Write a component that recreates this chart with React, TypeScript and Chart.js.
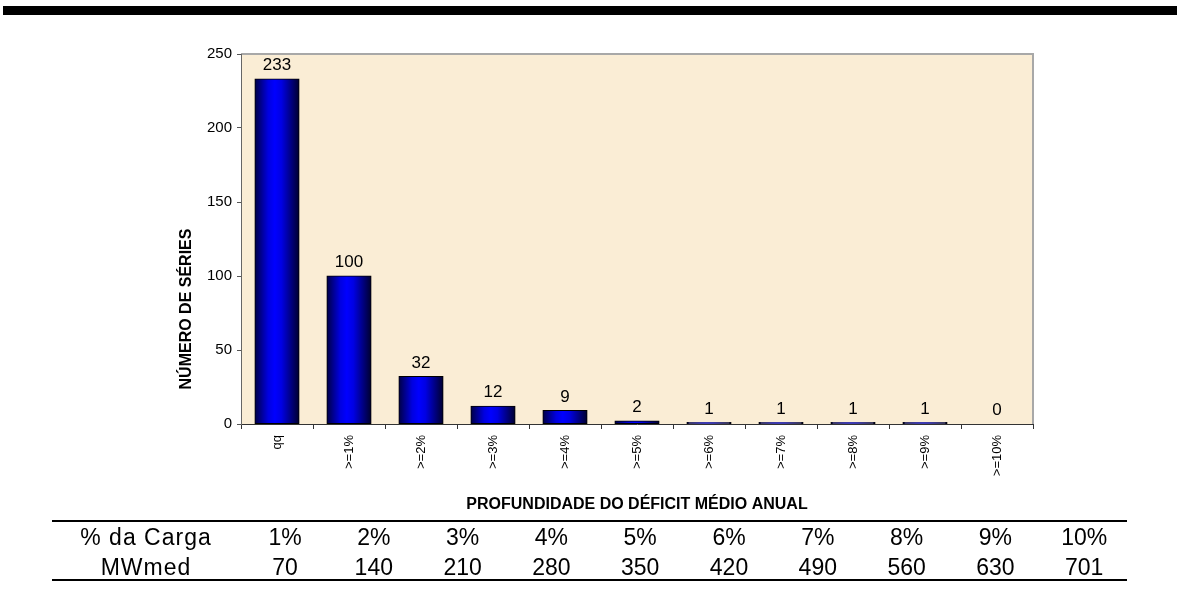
import React, { useEffect, useRef } from 'react';
import { Chart, registerables } from 'chart.js';

Chart.register(...registerables);

// Deficit depth classes and the number of hydrological series in each
const categories = ['qq', '>=1%', '>=2%', '>=3%', '>=4%', '>=5%', '>=6%', '>=7%', '>=8%', '>=9%', '>=10%'];
const seriesCount = [233, 100, 32, 12, 9, 2, 1, 1, 1, 1, 0];

const yMax = 250;
const yStep = 50;

const yTitle = 'NÚMERO DE SÉRIES';
const xTitle = 'PROFUNDIDADE DO DÉFICIT MÉDIO ANUAL';

// Equivalence table shown under the chart
const rowLabels = ['% da Carga', 'MWmed'];
const loadPercent = ['1%', '2%', '3%', '4%', '5%', '6%', '7%', '8%', '9%', '10%'];
const averageMW = ['70', '140', '210', '280', '350', '420', '490', '560', '630', '701'];

const FONT = '"Liberation Sans", Arial, Helvetica, sans-serif';
const W = 1177;
const H = 607;
const CAT_PCT = 1;
const BAR_PCT = 0.61;

const plotFrame = {
  id: 'plotFrame',
  beforeDraw(chart: any) {
    const { ctx, chartArea: a } = chart;
    ctx.save();
    ctx.fillStyle = '#FAEDD5';
    ctx.fillRect(a.left, a.top, a.right - a.left, a.bottom - a.top);
    ctx.strokeStyle = '#A8A8A8';
    ctx.lineWidth = 2;
    ctx.beginPath();
    ctx.moveTo(a.left, a.top);
    ctx.lineTo(a.right, a.top);
    ctx.lineTo(a.right, a.bottom);
    ctx.stroke();
    ctx.restore();
  },
};

const valueLabels = {
  id: 'valueLabels',
  afterDatasetsDraw(chart: any) {
    const { ctx } = chart;
    const meta = chart.getDatasetMeta(0);
    ctx.save();
    ctx.font = `17px ${FONT}`;
    ctx.fillStyle = '#000';
    ctx.textAlign = 'center';
    ctx.textBaseline = 'alphabetic';
    meta.data.forEach((el: any, i: number) => {
      ctx.fillText(String(seriesCount[i]), el.x, el.y - 9);
    });
    ctx.restore();
  },
};

const yAxisTitle = {
  id: 'yAxisTitle',
  afterDraw(chart: any) {
    const { ctx, chartArea: a } = chart;
    ctx.save();
    ctx.translate(a.left - 54.5, a.bottom - 115);
    ctx.rotate(-Math.PI / 2);
    ctx.font = `bold 16px ${FONT}`;
    ctx.fillStyle = '#000';
    ctx.textAlign = 'center';
    ctx.textBaseline = 'middle';
    ctx.fillText(yTitle, 0, 0);
    ctx.restore();
  },
};

function barGradient(context: any) {
  const chart = context.chart;
  const xs = chart.scales && chart.scales.x;
  if (!xs || context.dataIndex == null) return '#0000FF';
  const center = xs.getPixelForValue(context.dataIndex);
  const w = (xs.width / categories.length) * CAT_PCT * BAR_PCT;
  if (!Number.isFinite(center) || !Number.isFinite(w) || w <= 0) return '#0000FF';
  const g = chart.ctx.createLinearGradient(center - w / 2, 0, center + w / 2, 0);
  g.addColorStop(0, '#000048');
  g.addColorStop(0.3, '#0000E0');
  g.addColorStop(0.45, '#0000FF');
  g.addColorStop(0.6, '#0000E4');
  g.addColorStop(1, '#000030');
  return g;
}

function DeficitChart() {
  const ref = useRef<HTMLCanvasElement | null>(null);

  useEffect(() => {
    if (!ref.current) return;
    const chart = new Chart(ref.current, {
      type: 'bar',
      data: {
        labels: categories,
        datasets: [
          {
            data: seriesCount,
            backgroundColor: barGradient,
            borderColor: '#000',
            borderWidth: 1,
            borderSkipped: false,
            inflateAmount: 0.6,
            barPercentage: BAR_PCT,
            categoryPercentage: CAT_PCT,
          },
        ],
      },
      options: {
        responsive: false,
        animation: false,
        events: [],
        layout: { padding: { top: 54, right: W - 1033, left: 0, bottom: 0 } },
        plugins: {
          legend: { display: false },
          tooltip: { enabled: false },
        },
        scales: {
          x: {
            afterFit(scale: any) {
              scale.height = H - 424;
            },
            grid: {
              offset: true,
              drawOnChartArea: false,
              drawTicks: true,
              tickLength: 5,
              color: '#333',
            },
            border: { color: '#333', width: 1 },
            ticks: {
              autoSkip: false,
              minRotation: 90,
              maxRotation: 90,
              padding: 6,
              color: '#000',
              font: { family: FONT, size: 13 },
            },
            title: {
              display: true,
              text: xTitle,
              color: '#000',
              font: { family: FONT, size: 16, weight: 'bold' },
              padding: { top: 0, bottom: 93 },
            },
          },
          y: {
            min: 0,
            max: yMax,
            afterFit(scale: any) {
              scale.width = 241;
            },
            grid: {
              drawOnChartArea: false,
              drawTicks: true,
              tickLength: 4,
              color: '#555',
            },
            border: { color: '#666', width: 1 },
            ticks: {
              stepSize: yStep,
              padding: 5,
              color: '#000',
              font: { family: FONT, size: 15 },
            },
          },
        },
      },
      plugins: [plotFrame, valueLabels, yAxisTitle],
    } as any);
    // the gradient depends on laid-out scales, so resolve the options once more
    chart.update();
    return () => chart.destroy();
  }, []);

  return <canvas ref={ref} width={W} height={H} style={{ position: 'absolute', left: 0, top: 0, width: W, height: H }} />;
}

function EquivalenceTable() {
  const labelX = 146;
  const firstX = 285;
  const step = 88.8;
  const rows = [loadPercent, averageMW];
  const rowCenters = [536.7, 566.7];
  const cell = (x: number, y: number, text: string, key: string, spacing = 0) => (
    <div
      key={key}
      style={{
        position: 'absolute',
        left: x,
        top: y - 15,
        height: 30,
        lineHeight: '30px',
        transform: 'translateX(-50%)',
        whiteSpace: 'nowrap',
        fontFamily: FONT,
        fontSize: 23,
        letterSpacing: spacing,
        color: '#000',
      }}
    >
      {text}
    </div>
  );
  return (
    <>
      <div style={{ position: 'absolute', left: 52, width: 1127 - 52, top: 520, height: 2, background: '#000' }} />
      <div style={{ position: 'absolute', left: 52, width: 1127 - 52, top: 579, height: 2, background: '#000' }} />
      {rows.map((vals, r) => (
        <React.Fragment key={r}>
          {cell(labelX, rowCenters[r], rowLabels[r], `l${r}`, 1)}
          {vals.map((v, i) => cell(firstX + step * i, rowCenters[r], v, `c${r}-${i}`))}
        </React.Fragment>
      ))}
    </>
  );
}

export default function App() {
  return (
    <div style={{ position: 'absolute', left: 0, top: 0, width: W, height: H, background: '#fff', overflow: 'hidden' }}>
      <div style={{ position: 'absolute', left: 3, right: 0, top: 6, height: 9, background: '#000' }} />
      <DeficitChart />
      <EquivalenceTable />
    </div>
  );
}
